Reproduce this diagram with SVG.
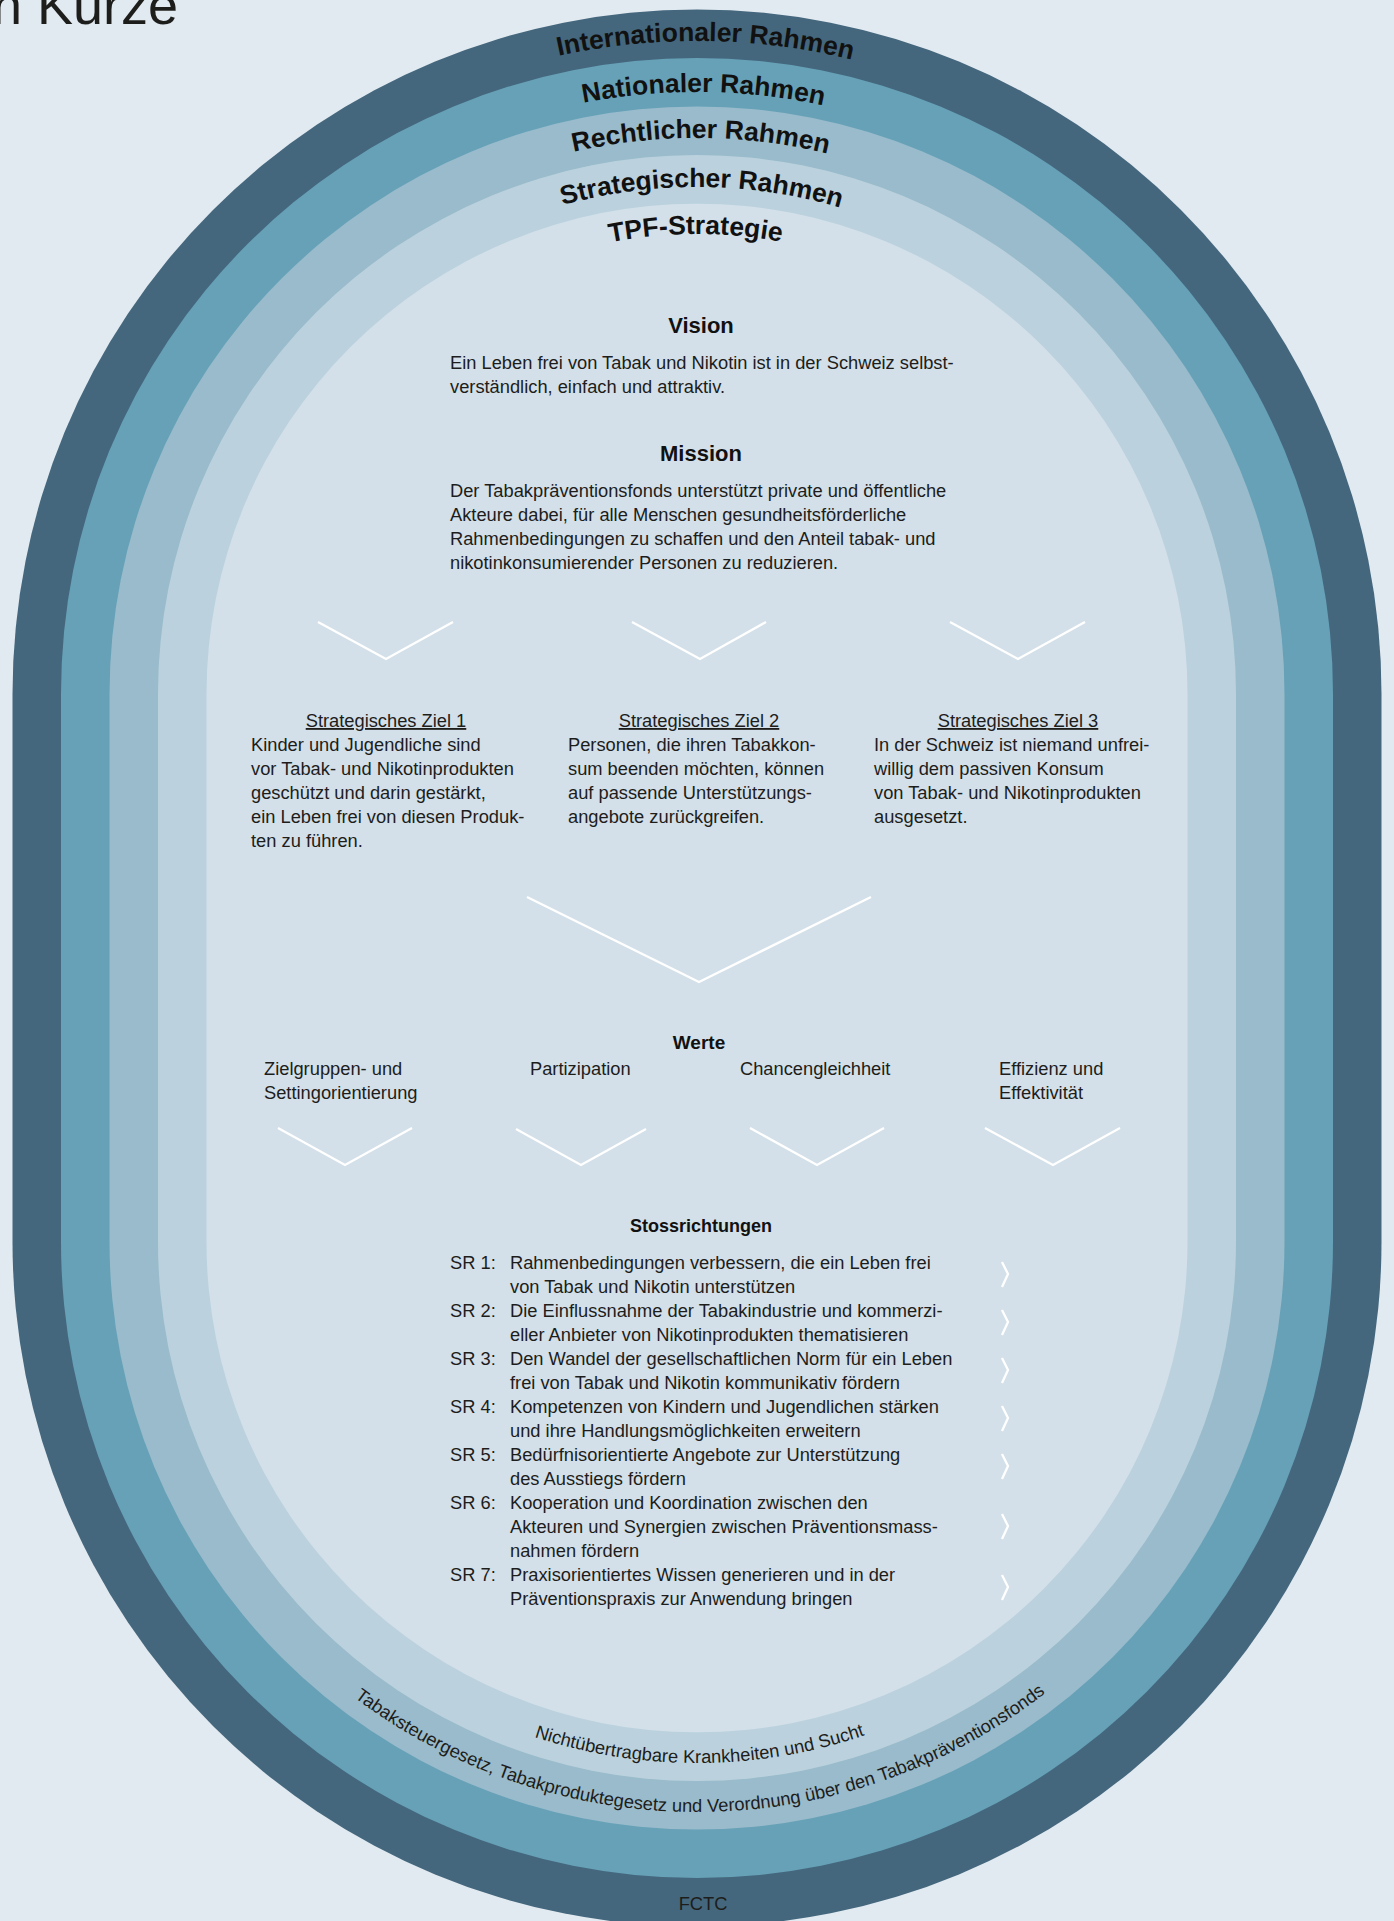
<svg xmlns="http://www.w3.org/2000/svg" width="1394" height="1921" viewBox="0 0 1394 1921">
<style>
.t{font-family:"Liberation Sans",Arial,sans-serif;font-size:18.3px;fill:#1d1d1b}
.b{font-family:"Liberation Sans",Arial,sans-serif;font-weight:bold;fill:#111}
.ring{font-family:"Liberation Sans",Arial,sans-serif;font-weight:bold;font-size:26.5px;fill:#111}
.ch{fill:none;stroke:#ffffff;stroke-width:2.3;stroke-linejoin:miter}
.u{text-decoration:underline}
</style>
<defs>
<path id="aIntl" d="M44,694 A653,653 0 0 1 1350,694"/>
<path id="aNat" d="M95,694 A602,602 0 0 1 1299,694"/>
<path id="aRecht" d="M141,694 A556,556 0 0 1 1253,694"/>
<path id="aStrat" d="M190,694 A507,507 0 0 1 1204,694"/>
<path id="aTPF" d="M237,694 A460,460 0 0 1 1157,694"/>
<path id="bNicht" d="M176,1242 A521,521 0 0 0 1218,1242"/>
<path id="bTabak" d="M127,1242 A570,570 0 0 0 1267,1242"/>
</defs>
<rect width="1394" height="1921" fill="#e2eaf1"/>
<text x="-8" y="24" font-family="Liberation Sans, Arial, sans-serif" font-size="54" fill="#1d1d1b">n Kurze</text>
<g id="rings">
<path id="ring-international" fill="#44677d" d="M12.5,694 A684.5,684.5 0 0 1 1381.5,694 L1381.5,1242 A684.5,684.5 0 0 1 12.5,1242 Z"/>
<path id="ring-national" fill="#66a1b7" d="M61,694 A636,636 0 0 1 1333,694 L1333,1242 A636,636 0 0 1 61,1242 Z"/>
<path id="ring-rechtlich" fill="#99bbcb" d="M109.5,694 A587.5,587.5 0 0 1 1284.5,694 L1284.5,1242 A587.5,587.5 0 0 1 109.5,1242 Z"/>
<path id="ring-strategisch" fill="#bbd2de" d="M158,694 A539,539 0 0 1 1236,694 L1236,1242 A539,539 0 0 1 158,1242 Z"/>
<path id="ring-tpf" fill="#d3e0e9" d="M206.5,694 A490.5,490.5 0 0 1 1187.5,694 L1187.5,1242 A490.5,490.5 0 0 1 206.5,1242 Z"/>
</g>
<g id="ring-labels">
<text class="ring"><textPath href="#aIntl" startOffset="1034" text-anchor="middle">Internationaler Rahmen</textPath></text>
<text class="ring"><textPath href="#aNat" startOffset="952" text-anchor="middle">Nationaler Rahmen</textPath></text>
<text class="ring"><textPath href="#aRecht" startOffset="877" text-anchor="middle">Rechtlicher Rahmen</textPath></text>
<text class="ring"><textPath href="#aStrat" startOffset="801" text-anchor="middle">Strategischer Rahmen</textPath></text>
<text class="ring"><textPath href="#aTPF" startOffset="721" text-anchor="middle">TPF-Strategie</textPath></text>
<text class="t"><textPath href="#bNicht" startOffset="821" text-anchor="middle">Nichtübertragbare Krankheiten und Sucht</textPath></text>
<text class="t"><textPath href="#bTabak" startOffset="899" text-anchor="middle">Tabaksteuergesetz, Tabakproduktegesetz und Verordnung über den Tabakpräventionsfonds</textPath></text>
<text class="t" x="703" y="1910" text-anchor="middle" font-size="17">FCTC</text>
</g>
<g id="vision">
<text class="b" x="701" y="333" font-size="22" text-anchor="middle">Vision</text>
<text class="t" x="450" y="369">Ein Leben frei von Tabak und Nikotin ist in der Schweiz selbst-</text>
<text class="t" x="450" y="393">verständlich, einfach und attraktiv.</text>
</g>
<g id="mission">
<text class="b" x="701" y="461" font-size="22" text-anchor="middle">Mission</text>
<text class="t" x="450" y="497">Der Tabakpräventionsfonds unterstützt private und öffentliche</text>
<text class="t" x="450" y="521">Akteure dabei, für alle Menschen gesundheitsförderliche</text>
<text class="t" x="450" y="545">Rahmenbedingungen zu schaffen und den Anteil tabak- und</text>
<text class="t" x="450" y="569">nikotinkonsumierender Personen zu reduzieren.</text>
</g>
<g id="ziel1">
<text class="t u" x="386" y="727" text-anchor="middle">Strategisches Ziel 1</text>
<text class="t" x="251" y="751">Kinder und Jugendliche sind</text>
<text class="t" x="251" y="775">vor Tabak- und Nikotinprodukten</text>
<text class="t" x="251" y="799">geschützt und darin gestärkt,</text>
<text class="t" x="251" y="823">ein Leben frei von diesen Produk-</text>
<text class="t" x="251" y="847">ten zu führen.</text>
</g>
<g id="ziel2">
<text class="t u" x="699" y="727" text-anchor="middle">Strategisches Ziel 2</text>
<text class="t" x="568" y="751">Personen, die ihren Tabakkon-</text>
<text class="t" x="568" y="775">sum beenden möchten, können</text>
<text class="t" x="568" y="799">auf passende Unterstützungs-</text>
<text class="t" x="568" y="823">angebote zurückgreifen.</text>
</g>
<g id="ziel3">
<text class="t u" x="1018" y="727" text-anchor="middle">Strategisches Ziel 3</text>
<text class="t" x="874" y="751">In der Schweiz ist niemand unfrei-</text>
<text class="t" x="874" y="775">willig dem passiven Konsum</text>
<text class="t" x="874" y="799">von Tabak- und Nikotinprodukten</text>
<text class="t" x="874" y="823">ausgesetzt.</text>
</g>
<g id="werte">
<text class="b" x="699" y="1049" font-size="19" text-anchor="middle">Werte</text>
<text class="t" x="264" y="1075">Zielgruppen- und</text>
<text class="t" x="264" y="1099">Settingorientierung</text>
<text class="t" x="530" y="1075">Partizipation</text>
<text class="t" x="740" y="1075">Chancengleichheit</text>
<text class="t" x="999" y="1075">Effizienz und</text>
<text class="t" x="999" y="1099">Effektivität</text>
</g>
<g id="stossrichtungen">
<text class="b" x="701" y="1232" font-size="18" text-anchor="middle">Stossrichtungen</text>
<text class="t" x="450" y="1269">SR 1:</text>
<text class="t" x="510" y="1269">Rahmenbedingungen verbessern, die ein Leben frei</text>
<text class="t" x="510" y="1293">von Tabak und Nikotin unterstützen</text>
<text class="t" x="450" y="1317">SR 2:</text>
<text class="t" x="510" y="1317">Die Einflussnahme der Tabakindustrie und kommerzi-</text>
<text class="t" x="510" y="1341">eller Anbieter von Nikotinprodukten thematisieren</text>
<text class="t" x="450" y="1365">SR 3:</text>
<text class="t" x="510" y="1365">Den Wandel der gesellschaftlichen Norm für ein Leben</text>
<text class="t" x="510" y="1389">frei von Tabak und Nikotin kommunikativ fördern</text>
<text class="t" x="450" y="1413">SR 4:</text>
<text class="t" x="510" y="1413">Kompetenzen von Kindern und Jugendlichen stärken</text>
<text class="t" x="510" y="1437">und ihre Handlungsmöglichkeiten erweitern</text>
<text class="t" x="450" y="1461">SR 5:</text>
<text class="t" x="510" y="1461">Bedürfnisorientierte Angebote zur Unterstützung</text>
<text class="t" x="510" y="1485">des Ausstiegs fördern</text>
<text class="t" x="450" y="1509">SR 6:</text>
<text class="t" x="510" y="1509">Kooperation und Koordination zwischen den</text>
<text class="t" x="510" y="1533">Akteuren und Synergien zwischen Präventionsmass-</text>
<text class="t" x="510" y="1557">nahmen fördern</text>
<text class="t" x="450" y="1581">SR 7:</text>
<text class="t" x="510" y="1581">Praxisorientiertes Wissen generieren und in der</text>
<text class="t" x="510" y="1605">Präventionspraxis zur Anwendung bringen</text>
</g>
<g id="connectors">
<polyline class="ch" points="318,622 386,659 453,622"/>
<polyline class="ch" points="632,622 700,659 766,622"/>
<polyline class="ch" points="950,622 1018,659 1085,622"/>
<polyline class="ch" points="527,897 699,982 871,897"/>
<polyline class="ch" points="278,1128 345,1165 412,1128"/>
<polyline class="ch" points="516,1129 581,1165 646,1129"/>
<polyline class="ch" points="750,1128 817,1165 884,1128"/>
<polyline class="ch" points="985,1128 1053,1165 1120,1128"/>
<polyline class="ch" points="1002,1262 1008,1274 1002,1287"/>
<polyline class="ch" points="1002,1310 1008,1322 1002,1335"/>
<polyline class="ch" points="1002,1358 1008,1370 1002,1383"/>
<polyline class="ch" points="1002,1406 1008,1418 1002,1431"/>
<polyline class="ch" points="1002,1454 1008,1466 1002,1479"/>
<polyline class="ch" points="1002,1514 1008,1526 1002,1539"/>
<polyline class="ch" points="1002,1575 1008,1587 1002,1600"/>
</g>
</svg>
